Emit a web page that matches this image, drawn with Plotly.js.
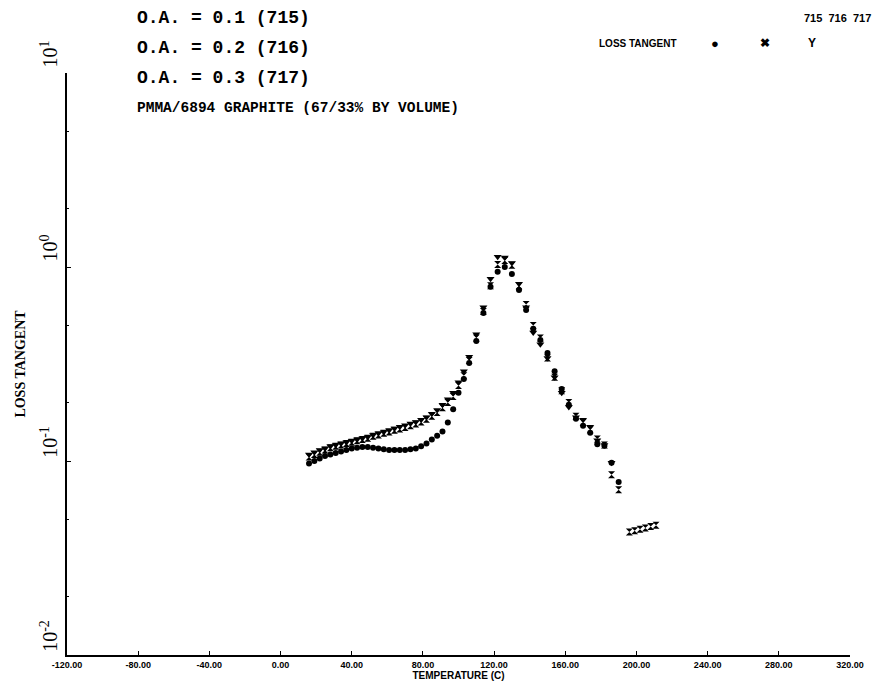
<!DOCTYPE html>
<html>
<head>
<meta charset="utf-8">
<script src="https://cdn.plot.ly/plotly-3.0.1.min.js"></script>
<style>html,body{margin:0;padding:0;background:#fff;}#chart{width:875px;height:690px;}</style>
</head>
<body>
<div id="chart"></div>
<script>
// Temperature (C) and loss tangent readings per sample
const temp715 = [16,19,22,25,28,31,34,37,40,43,46,49,52,55,58,61,64,67,70,73,76,79,82,85,88,91,94,97,100,103,106,110,114,118,122,126,130,134,138,142,146,150,154,158,162,166,170,174,178,182,186,190];
const tan715  = [0.097,0.100,0.103,0.106,0.108,0.110,0.112,0.114,0.116,0.117,0.118,0.118,0.117,0.116,0.115,0.114,0.114,0.114,0.114,0.115,0.116,0.119,0.123,0.129,0.135,0.142,0.158,0.185,0.225,0.265,0.320,0.415,0.580,0.790,0.945,1.00,0.92,0.76,0.60,0.48,0.42,0.36,0.29,0.235,0.195,0.165,0.152,0.140,0.122,0.120,0.098,0.078];

const temp716 = [16,19,22,25,28,31,34,37,40,43,46,49,52,55,58,61,64,67,70,73,76,79,82,85,88,91,94,97,100,103,106,110,114,118,122,126,130,134,138,142,146,150,154,158,162,166,170,174,178,182,186,190,196,199,202,205,208,211];
const tan716  = [0.105,0.108,0.111,0.114,0.117,0.119,0.121,0.123,0.125,0.127,0.129,0.131,0.134,0.136,0.139,0.141,0.144,0.146,0.149,0.152,0.155,0.159,0.164,0.170,0.178,0.188,0.200,0.215,0.245,0.275,0.330,0.430,0.590,0.800,1.03,1.08,1.02,0.80,0.64,0.50,0.43,0.34,0.27,0.23,0.20,0.17,0.158,0.145,0.130,0.121,0.085,0.071,0.0430,0.0437,0.0445,0.0452,0.0460,0.0467];

const temp717 = [16,19,22,25,28,31,34,37,40,43,46,49,52,55,58,61,64,67,70,73,76,79,82,85,88,91,94,97,100,103,106,110,114,118,122,126,130,134,138,142,146,150,154,158,162,166,170,174,178,182,186];
const tan717  = [0.108,0.111,0.114,0.116,0.119,0.121,0.123,0.125,0.127,0.129,0.131,0.133,0.136,0.139,0.141,0.144,0.147,0.150,0.153,0.156,0.159,0.163,0.168,0.175,0.183,0.195,0.208,0.225,0.255,0.290,0.345,0.450,0.620,0.870,1.13,1.12,1.05,0.82,0.62,0.46,0.40,0.34,0.27,0.225,0.190,0.168,0.163,0.150,0.128,0.121,0.098];

const xTickVals = [-120,-80,-40,0,40,80,120,160,200,240,280,320];
const xTickText = ["-120.00","-80.00","-40.00","0.00","40.00","80.00","120.00","160.00","200.00","240.00","280.00","320.00"];
const yTickVals = [0.01,0.1,1,10];
const yTickText = ["10<sup>-2</sup>","10<sup>-1</sup>","10<sup>0</sup>","10<sup>1</sup>"];

const titleLines = ["O.A. = 0.1 (715)","O.A. = 0.2 (716)","O.A. = 0.3 (717)"];
const subTitle = "PMMA/6894 GRAPHITE (67/33% BY VOLUME)";

const mk = (sym, size) => ({symbol: sym, size: size, color: "#000", line: {width: 0}});
const traces = [
  {x: temp715, y: tan715, type: "scatter", mode: "markers", name: "715", marker: mk("circle", 6)},
  {x: temp716, y: tan716, type: "scatter", mode: "markers", name: "716", marker: mk("hourglass", 7)},
  {x: temp717, y: tan717, type: "scatter", mode: "markers", name: "717", marker: mk("triangle-down", 7)}
];

const monoBold = {family: "Liberation Mono, Courier New, monospace", color: "#000", weight: 700};
const sansBold = {family: "Liberation Sans, Arial, sans-serif", color: "#000", weight: 700};

const annotations = [];
const lineY = [1.0945, 1.043, 0.991];
titleLines.forEach((t, i) => annotations.push({
  xref: "paper", yref: "paper", x: 0.087, y: lineY[i], xanchor: "left", yanchor: "middle",
  text: t, showarrow: false, font: Object.assign({size: 18}, monoBold)
}));
annotations.push({xref: "paper", yref: "paper", x: 0.087, y: 0.940, xanchor: "left", yanchor: "middle",
  text: subTitle, showarrow: false, font: Object.assign({size: 14.5}, monoBold)});
annotations.push({xref: "paper", yref: "paper", x: 1.03, y: 1.094, xanchor: "right", yanchor: "middle",
  text: "715  716  717", showarrow: false, font: Object.assign({size: 11}, sansBold)});
annotations.push({xref: "paper", yref: "paper", x: 0.677, y: 1.051, xanchor: "left", yanchor: "middle",
  text: "LOSS TANGENT", showarrow: false, font: Object.assign({size: 10}, sansBold)});
annotations.push({xref: "paper", yref: "paper", x: 0.827, y: 1.051, xanchor: "center", yanchor: "middle",
  text: "●", showarrow: false, font: Object.assign({size: 13}, sansBold)});
annotations.push({xref: "paper", yref: "paper", x: 0.891, y: 1.051, xanchor: "center", yanchor: "middle",
  text: "✖", showarrow: false, font: Object.assign({size: 12}, sansBold)});
annotations.push({xref: "paper", yref: "paper", x: 0.951, y: 1.051, xanchor: "center", yanchor: "middle",
  text: "Y", showarrow: false, font: Object.assign({size: 12}, sansBold)});

const layout = {
  width: 875, height: 690,
  margin: {l: 67, r: 25, t: 73, b: 35},
  paper_bgcolor: "#fff", plot_bgcolor: "#fff",
  showlegend: false,
  xaxis: {
    range: [-120, 320], tickmode: "array", tickvals: xTickVals, ticktext: xTickText,
    showgrid: false, zeroline: false, showline: true, linecolor: "#000", linewidth: 2,
    ticks: "inside", ticklen: 4, tickcolor: "#000",
    tickfont: {family: "Liberation Sans, Arial, sans-serif", size: 9, color: "#000", weight: 700},
    title: {text: "TEMPERATURE (C)", standoff: 0, font: {family: "Liberation Sans, Arial, sans-serif", size: 10, color: "#000", weight: 700}}
  },
  yaxis: {
    type: "log", range: [-2, 1], tickmode: "array", tickvals: yTickVals, ticktext: yTickText,
    tickangle: -90, ticklabelshift: -16,
    showgrid: false, zeroline: false, showline: true, linecolor: "#000", linewidth: 2,
    ticks: "inside", ticklen: 4, tickcolor: "#000",
    minor: {ticks: "inside", ticklen: 2, tickcolor: "#000", dtick: "D2", showgrid: false},
    tickfont: {family: "Liberation Serif, Times New Roman, serif", size: 20, color: "#000"},
    title: {text: "LOSS TANGENT", standoff: 8, font: {family: "Liberation Serif, Times New Roman, serif", size: 14, color: "#000", weight: 700}}
  },
  annotations: annotations
};

Plotly.newPlot("chart", traces, layout, {displayModeBar: false, staticPlot: true});
</script>
</body>
</html>
